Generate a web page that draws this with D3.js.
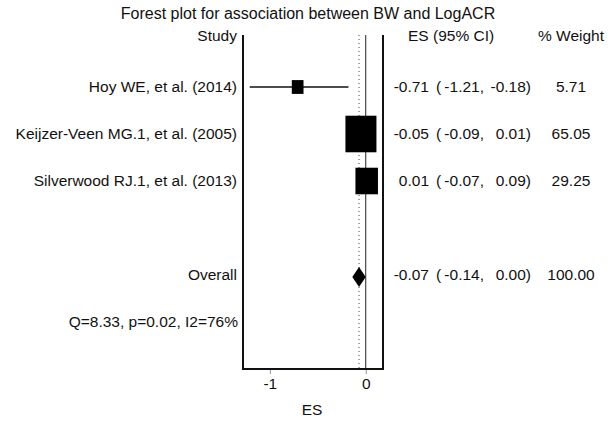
<!DOCTYPE html>
<html>
<head>
<meta charset="utf-8">
<script src="https://cdn.jsdelivr.net/npm/d3@7"></script>
<style>
  body { margin: 0; background: #fff; }
  text { font-family: "Liberation Sans", Arial, sans-serif; font-size: 15.5px; fill: #111; }
</style>
</head>
<body>
<div id="svgchart"></div>
<script>
var studies = ['Hoy WE, et al. (2014)', 'Keijzer-Veen MG.1, et al. (2005)', 'Silverwood RJ.1, et al. (2013)'];
var estimates = [-0.71, -0.05, 0.01];
var lower = [-1.21, -0.09, -0.07];
var upper = [-0.18, 0.01, 0.09];
var weights = [5.71, 65.05, 29.25];
var overall = { label: 'Overall', es: -0.07, lo: -0.14, hi: 0.0, w: 100.0 };
var hetero = 'Q=8.33, p=0.02, I2=76%';
var xTicks = [-1, 0];

var width = 616, height = 423;
var svg = d3.select('#svgchart').append('svg')
  .attr('width', width).attr('height', height);

var loc = d3.formatLocale({ decimal: '.', thousands: ',', grouping: [3], currency: ['', ''], minus: '-' });
var fmt = loc.format('.2f');

var x = d3.scaleLinear().domain([-1.28, 0.18]).range([243, 383]);
var rows = studies.concat(['_blank', overall.label, '_het']);
var y = d3.scalePoint().domain(rows).range([87, 322]);
var size = d3.scalePow().exponent(0.4).domain([0, 65.05]).range([0, 31]);

var data = studies.map(function (s, i) {
  return { label: s, es: estimates[i], lo: lower[i], hi: upper[i], w: weights[i] };
});

// title + headers
svg.append('text').attr('x', 308).attr('y', 13).attr('dy', '0.35em')
  .attr('text-anchor', 'middle').style('font-size', '16px')
  .text('Forest plot for association between BW and LogACR');
svg.append('text').attr('x', 237).attr('y', 36).attr('dy', '0.35em')
  .attr('text-anchor', 'end').text('Study');
svg.append('text').attr('x', 408).attr('y', 36).attr('dy', '0.35em').text('ES (95% CI)');
svg.append('text').attr('x', 538).attr('y', 36).attr('dy', '0.35em').text('% Weight');

var frameTop = 35, frameBottom = 369;

// reference lines
svg.append('line').attr('x1', x(0)).attr('x2', x(0)).attr('y1', frameTop).attr('y2', frameBottom)
  .attr('stroke', '#222').attr('stroke-width', 1);
svg.append('line').attr('x1', x(overall.es)).attr('x2', x(overall.es)).attr('y1', frameTop).attr('y2', frameBottom)
  .attr('stroke', '#444').attr('stroke-width', 1).attr('stroke-dasharray', '1,3');

// frame
svg.append('path')
  .attr('d', 'M' + x.range()[0] + ',' + frameTop + 'V' + frameBottom + 'H' + x.range()[1] + 'V' + frameTop)
  .attr('fill', 'none').attr('stroke', '#111').attr('stroke-width', 2);

// x axis ticks below frame
var ax = svg.append('g').attr('transform', 'translate(0,' + (frameBottom + 1) + ')')
  .call(d3.axisBottom(x).tickValues(xTicks).tickSize(4).tickSizeOuter(0).tickPadding(4).tickFormat(loc.format('d')));
ax.select('.domain').remove();
ax.selectAll('line').attr('stroke', '#999');
ax.selectAll('text').style('font-size', '15.5px').style('font-family', '"Liberation Sans", Arial, sans-serif').attr('fill', '#111');
svg.append('text').attr('x', 312).attr('y', 410).attr('dy', '0.35em')
  .attr('text-anchor', 'middle').text('ES');

// study rows
var g = svg.append('g');
g.selectAll('.ci').data(data).enter().append('line')
  .attr('x1', function (d) { return x(d.lo); })
  .attr('x2', function (d) { return x(d.hi); })
  .attr('y1', function (d) { return y(d.label); })
  .attr('y2', function (d) { return y(d.label); })
  .attr('stroke', '#111').attr('stroke-width', 1.5);
g.selectAll('.box').data(data).enter().append('rect')
  .attr('x', function (d) { return x(d.es) - size(d.w) / 2; })
  .attr('y', function (d) { return y(d.label) - size(d.w) * 1.18 / 2; })
  .attr('width', function (d) { return size(d.w); })
  .attr('height', function (d) { return size(d.w) * 1.18; })
  .attr('fill', '#000');

// overall diamond
var oy = y(overall.label) + 2;
svg.append('path')
  .attr('d', 'M' + x(overall.lo) + ',' + oy + 'L' + x(overall.es) + ',' + (oy - 10) +
    'L' + x(overall.hi) + ',' + oy + 'L' + x(overall.es) + ',' + (oy + 10) + 'Z')
  .attr('fill', '#000');

// text columns
var all = data.concat([overall]);
var cols = svg.append('g');
all.forEach(function (d) {
  var yy = y(d.label);
  cols.append('text').attr('x', 237).attr('y', yy).attr('dy', '0.35em')
    .attr('text-anchor', 'end').text(d.label);
  cols.append('text').attr('x', 429).attr('y', yy).attr('dy', '0.35em')
    .attr('text-anchor', 'end').text(fmt(d.es));
  cols.append('text').attr('x', 436).attr('y', yy).attr('dy', '0.35em').text('(');
  cols.append('text').attr('x', 484).attr('y', yy).attr('dy', '0.35em')
    .attr('text-anchor', 'end').text(fmt(d.lo) + ',');
  cols.append('text').attr('x', 531).attr('y', yy).attr('dy', '0.35em')
    .attr('text-anchor', 'end').text(fmt(d.hi) + ')');
  cols.append('text').attr('x', 571).attr('y', yy).attr('dy', '0.35em')
    .attr('text-anchor', 'middle').text(fmt(d.w));
});
svg.append('text').attr('x', 238).attr('y', y('_het')).attr('dy', '0.35em')
  .attr('text-anchor', 'end').text(hetero);
</script>
</body>
</html>
